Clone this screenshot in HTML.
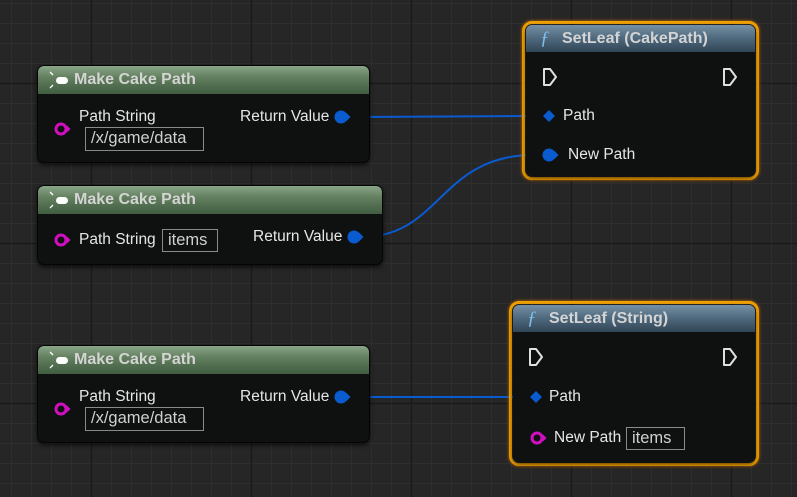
<!DOCTYPE html>
<html><head><meta charset="utf-8"><style>
*{margin:0;padding:0;box-sizing:border-box}
body{width:797px;height:497px;overflow:hidden;background:#262626;font-family:"Liberation Sans",sans-serif;position:relative}
.grid{position:absolute;left:0;top:0}
.node{position:absolute;background:#0f1110;border-radius:7px;box-shadow:0 2px 5px rgba(0,0,0,.7);border:1px solid #050505}
.hdr{position:absolute;left:0;right:0;top:0;height:28px;border-radius:6px 6px 0 0;color:#d4d4d4;font-weight:bold;font-size:16px;line-height:28px}
.green{background:linear-gradient(to bottom,#8aa588 0%,#63805f 40%,#415c40 100%)}
.blue{background:linear-gradient(to bottom,#7590a6 0%,#516b80 45%,#314656 100%)}
.t{position:absolute;color:#e6e6e6;font-size:15.5px;white-space:nowrap;line-height:18px}
.box{position:absolute;border:1.5px solid #8a8a8a;color:#d0d0d0;font-size:16.5px;line-height:21px;padding:0 5px;white-space:nowrap}
.sel{position:absolute;border:3px solid #f0a000;border-radius:10px;box-shadow:0 0 3px #d07000}
</style></head><body>
<svg class="grid" width="797" height="497" xmlns="http://www.w3.org/2000/svg">
<defs>
<pattern id="m" x="11" y="3" width="20" height="20" patternUnits="userSpaceOnUse"><path d="M0.5 0V20M0 0.5H20" stroke="#2e2e2e" stroke-width="1"/></pattern>
</defs>
<rect width="797" height="497" fill="#262626"/>
<rect width="797" height="497" fill="url(#m)"/>
<g stroke="#1a1a1a" stroke-width="1.5">
<line x1="91.5" y1="0" x2="91.5" y2="497"/><line x1="251.5" y1="0" x2="251.5" y2="497"/><line x1="411.5" y1="0" x2="411.5" y2="497"/><line x1="571.5" y1="0" x2="571.5" y2="497"/><line x1="731.5" y1="0" x2="731.5" y2="497"/>
<line x1="0" y1="83.5" x2="797" y2="83.5"/><line x1="0" y1="243.5" x2="797" y2="243.5"/><line x1="0" y1="403.5" x2="797" y2="403.5"/>
</g>
<g stroke="#0a5ad0" stroke-width="2" fill="none">
<path d="M350 117 L532 116"/>
<path d="M362 237 C440 237 440 156 532 155"/>
<path d="M350 397 L532 397"/>
</g>
</svg>

<div class="node" style="left:37px;top:65px;width:333px;height:98px">
<div class="hdr green"><span style="position:absolute;left:36px">Make Cake Path</span></div>
</div>
<div class="node" style="left:37px;top:185px;width:346px;height:80px">
<div class="hdr green"><span style="position:absolute;left:36px">Make Cake Path</span></div>
</div>
<div class="node" style="left:37px;top:345px;width:333px;height:98px">
<div class="hdr green"><span style="position:absolute;left:36px">Make Cake Path</span></div>
</div>

<div class="sel" style="left:522px;top:21px;width:237px;height:159px"></div>
<div class="node" style="left:526px;top:25px;width:229px;height:151px;border:none">
<div class="hdr blue" style="height:27px;line-height:27px"><span style="position:absolute;left:14px;color:#7fc0f0;font-style:italic;font-weight:normal;font-family:'Liberation Serif',serif;font-size:19px">ƒ</span><span style="position:absolute;left:36px">SetLeaf (CakePath)</span></div>
</div>
<div class="sel" style="left:509px;top:301px;width:250px;height:165px"></div>
<div class="node" style="left:513px;top:305px;width:242px;height:157px;border:none">
<div class="hdr blue" style="height:27px;line-height:27px"><span style="position:absolute;left:14px;color:#7fc0f0;font-style:italic;font-weight:normal;font-family:'Liberation Serif',serif;font-size:19px">ƒ</span><span style="position:absolute;left:36px">SetLeaf (String)</span></div>
</div>

<div class="t" style="left:79px;top:108px">Path String</div>
<div class="box" style="left:85px;top:127px;width:119px;height:24px">/x/game/data</div>
<div class="t" style="left:240px;top:108px">Return Value</div>

<div class="t" style="left:79px;top:231px">Path String</div>
<div class="box" style="left:162px;top:229px;width:56px;height:23px">items</div>
<div class="t" style="left:253px;top:228px">Return Value</div>

<div class="t" style="left:79px;top:388px">Path String</div>
<div class="box" style="left:85px;top:407px;width:119px;height:24px">/x/game/data</div>
<div class="t" style="left:240px;top:388px">Return Value</div>

<div class="t" style="left:563px;top:107px">Path</div>
<div class="t" style="left:568px;top:146px">New Path</div>

<div class="t" style="left:549px;top:388px">Path</div>
<div class="t" style="left:554px;top:429px">New Path</div>
<div class="box" style="left:626px;top:427px;width:59px;height:23px">items</div>

<svg style="position:absolute;left:0;top:0" width="797" height="497" xmlns="http://www.w3.org/2000/svg">
<g stroke="#fff" stroke-width="1.3" fill="none">
<path d="M50 72 l3 3 M50 88 l3 -3"/>
<path d="M50 192 l3 3 M50 208 l3 -3"/>
<path d="M50 352 l3 3 M50 368 l3 -3"/>
</g>
<g fill="#fff">
<rect x="56" y="77" width="12" height="7" rx="3.5"/>
<rect x="56" y="197" width="12" height="7" rx="3.5"/>
<rect x="56" y="357" width="12" height="7" rx="3.5"/>
</g>
<g stroke="#d010c0" stroke-width="3" fill="none">
<circle cx="61" cy="129" r="5"/><circle cx="61" cy="240" r="5"/><circle cx="61" cy="409" r="5"/><circle cx="537" cy="438" r="5"/>
</g>
<g fill="#d010c0"><path d="M67 125.5 l3.5 3.5 l-3.5 3.5z"/><path d="M67 236.5 l3.5 3.5 l-3.5 3.5z"/><path d="M67 405.5 l3.5 3.5 l-3.5 3.5z"/><path d="M543 434.5 l3.5 3.5 l-3.5 3.5z"/></g>
<g fill="#0a5ad0">
<circle cx="341" cy="117" r="6.5"/><path d="M346 112.5 l4.5 4.5 l-4.5 4.5z"/>
<circle cx="354" cy="237" r="6.5"/><path d="M359 232.5 l4.5 4.5 l-4.5 4.5z"/>
<circle cx="341" cy="397" r="6.5"/><path d="M346 392.5 l4.5 4.5 l-4.5 4.5z"/>
<circle cx="549" cy="155" r="6.5"/><path d="M554 150.5 l4.5 4.5 l-4.5 4.5z"/>
<path d="M549 110 l6 6 l-6 6 l-6 -6z"/>
<path d="M536 391 l6 6 l-6 6 l-6 -6z"/>
</g>
<g stroke="#e0e0e0" stroke-width="2" fill="none" stroke-linejoin="round">
<path d="M544 69 h6 l6 8 l-6 8 h-6z"/>
<path d="M724 69 h6 l6 8 l-6 8 h-6z"/>
<path d="M530 349 h6 l6 8 l-6 8 h-6z"/>
<path d="M724 349 h6 l6 8 l-6 8 h-6z"/>
</g>
</svg>
</body></html>
